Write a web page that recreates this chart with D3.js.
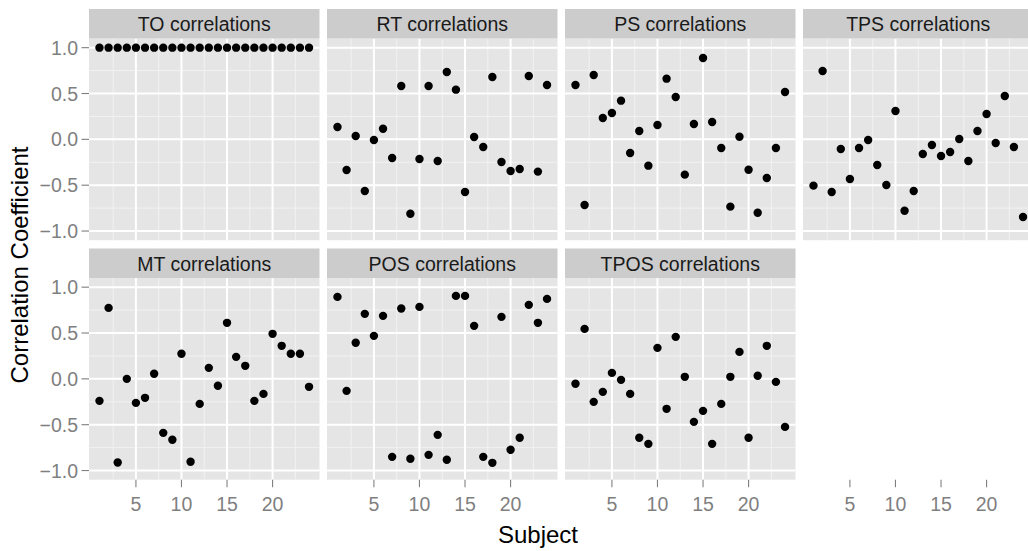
<!DOCTYPE html>
<html><head><meta charset="utf-8">
<script src="https://cdn.jsdelivr.net/npm/d3@7"></script>
<style>body{margin:0;background:#fff;} text{font-family:"Liberation Sans",Arial,Helvetica,sans-serif;}</style>
</head><body>
<svg id="chart" width="1028" height="551"></svg>
<script>
const subjects = d3.range(1, 25);
const panelNames = ["TO correlations","RT correlations","PS correlations","TPS correlations","MT correlations","POS correlations","TPOS correlations"];
const TO   = [1,1,1,1,1,1,1,1,1,1,1,1,1,1,1,1,1,1,1,1,1,1,1,1];
const RT   = [0.134,-0.334,0.036,-0.563,-0.007,0.116,-0.203,0.582,-0.811,-0.214,0.582,-0.236,0.734,0.542,-0.574,0.025,-0.083,0.680,-0.247,-0.345,-0.323,0.691,-0.352,0.593];
const PS   = [0.593,-0.716,0.702,0.233,0.287,0.422,-0.149,0.091,-0.287,0.156,0.662,0.462,-0.385,0.167,0.887,0.189,-0.094,-0.734,0.029,-0.331,-0.800,-0.422,-0.094,0.516];
const TPS  = [-0.505,0.745,-0.574,-0.105,-0.433,-0.094,-0.007,-0.280,-0.498,0.309,-0.778,-0.563,-0.160,-0.062,-0.182,-0.138,0.004,-0.236,0.091,0.276,-0.040,0.473,-0.083,-0.847];
const MT   = [-0.240,0.774,-0.912,0.0,-0.262,-0.207,0.055,-0.589,-0.665,0.273,-0.905,-0.273,0.120,-0.076,0.611,0.240,0.142,-0.240,-0.164,0.491,0.360,0.273,0.273,-0.087];
const POS  = [0.894,-0.131,0.393,0.709,0.469,0.687,-0.851,0.767,-0.872,0.785,-0.829,-0.611,-0.883,0.905,0.905,0.578,-0.851,-0.916,0.676,-0.774,-0.643,0.807,0.611,0.872];
const TPOS = [-0.054,0.545,-0.251,-0.142,0.065,-0.011,-0.164,-0.643,-0.709,0.338,-0.327,0.458,0.022,-0.469,-0.349,-0.709,-0.273,0.022,0.294,-0.643,0.033,0.360,-0.033,-0.524];
const seriesValues = [TO, RT, PS, TPS, MT, POS, TPOS];
const yTicks = [-1, -0.5, 0, 0.5, 1];
const yMinor = [-0.75, -0.25, 0.25, 0.75];
const xTicks = [5, 10, 15, 20];
const xMinor = [2.5, 7.5, 12.5, 17.5, 22.5];

const svg = d3.select("#chart");
const left0 = 89, colStep = 238, panelW = 230.5;
const stripTop = [9, 248.5], stripH = 29.5, panelH = 201.7;
const ncol = 4;

const x = d3.scaleLinear().domain([1 - 1.15, 24 + 1.15]).range([0, panelW]);
const y = d3.scaleLinear().domain([-1.1, 1.1]).range([panelH, 0]);
const fmt = v => (v < 0 ? "\u2212" : "") + Math.abs(v).toFixed(1);

panelNames.forEach((name, i) => {
  const r = Math.floor(i / ncol), c = i % ncol;
  const px = left0 + c * colStep, sy = stripTop[r], py = sy + stripH;
  const g = svg.append("g").attr("transform", `translate(${px},${py})`);
  svg.append("rect").attr("x", px).attr("y", sy).attr("width", panelW).attr("height", stripH).attr("fill", "#cccccc");
  svg.append("text").attr("x", px + panelW / 2).attr("y", sy + 22).attr("text-anchor", "middle")
    .attr("font-size", 19.5).attr("fill", "#1a1a1a").text(name);
  g.append("rect").attr("width", panelW).attr("height", panelH).attr("fill", "#e5e5e5");
  yMinor.forEach(v => g.append("line").attr("x1", 0).attr("x2", panelW).attr("y1", y(v)).attr("y2", y(v)).attr("stroke", "#f2f2f2").attr("stroke-width", 1));
  xMinor.forEach(v => g.append("line").attr("y1", 0).attr("y2", panelH).attr("x1", x(v)).attr("x2", x(v)).attr("stroke", "#f2f2f2").attr("stroke-width", 1));
  yTicks.forEach(v => g.append("line").attr("x1", 0).attr("x2", panelW).attr("y1", y(v)).attr("y2", y(v)).attr("stroke", "#ffffff").attr("stroke-width", 2));
  xTicks.forEach(v => g.append("line").attr("y1", 0).attr("y2", panelH).attr("x1", x(v)).attr("x2", x(v)).attr("stroke", "#ffffff").attr("stroke-width", 2));
  g.selectAll("circle.pt").data(subjects).join("circle").attr("class", "pt")
    .attr("cx", d => x(d)).attr("cy", (d, j) => y(seriesValues[i][j])).attr("r", 4.2).attr("fill", "#000");
  if (c === 0) {
    yTicks.forEach(v => {
      g.append("line").attr("x1", -7.5).attr("x2", 0).attr("y1", y(v)).attr("y2", y(v)).attr("stroke", "#7f7f7f").attr("stroke-width", 1.1);
      g.append("text").attr("x", -11).attr("y", y(v)).attr("dy", "0.36em").attr("text-anchor", "end")
        .attr("font-size", 19.5).attr("fill", "#7f7f7f").text(fmt(v));
    });
  }
});

const axisY = stripTop[1] + stripH + panelH;
for (let c = 0; c < ncol; c++) {
  const px = left0 + c * colStep;
  const g = svg.append("g").attr("transform", `translate(${px},${axisY})`);
  xTicks.forEach(v => {
    g.append("line").attr("x1", x(v)).attr("x2", x(v)).attr("y1", 0).attr("y2", 7.5).attr("stroke", "#7f7f7f").attr("stroke-width", 1.1);
    g.append("text").attr("x", x(v)).attr("y", 31).attr("text-anchor", "middle")
      .attr("font-size", 19.5).attr("fill", "#7f7f7f").text(v);
  });
}

svg.append("text").attr("x", 538).attr("y", 543).attr("text-anchor", "middle").attr("font-size", 24).attr("fill", "#000").text("Subject");
svg.append("text").attr("transform", "translate(28,265) rotate(-90)").attr("text-anchor", "middle").attr("font-size", 24).attr("fill", "#000").text("Correlation Coefficient");
</script>
</body></html>
